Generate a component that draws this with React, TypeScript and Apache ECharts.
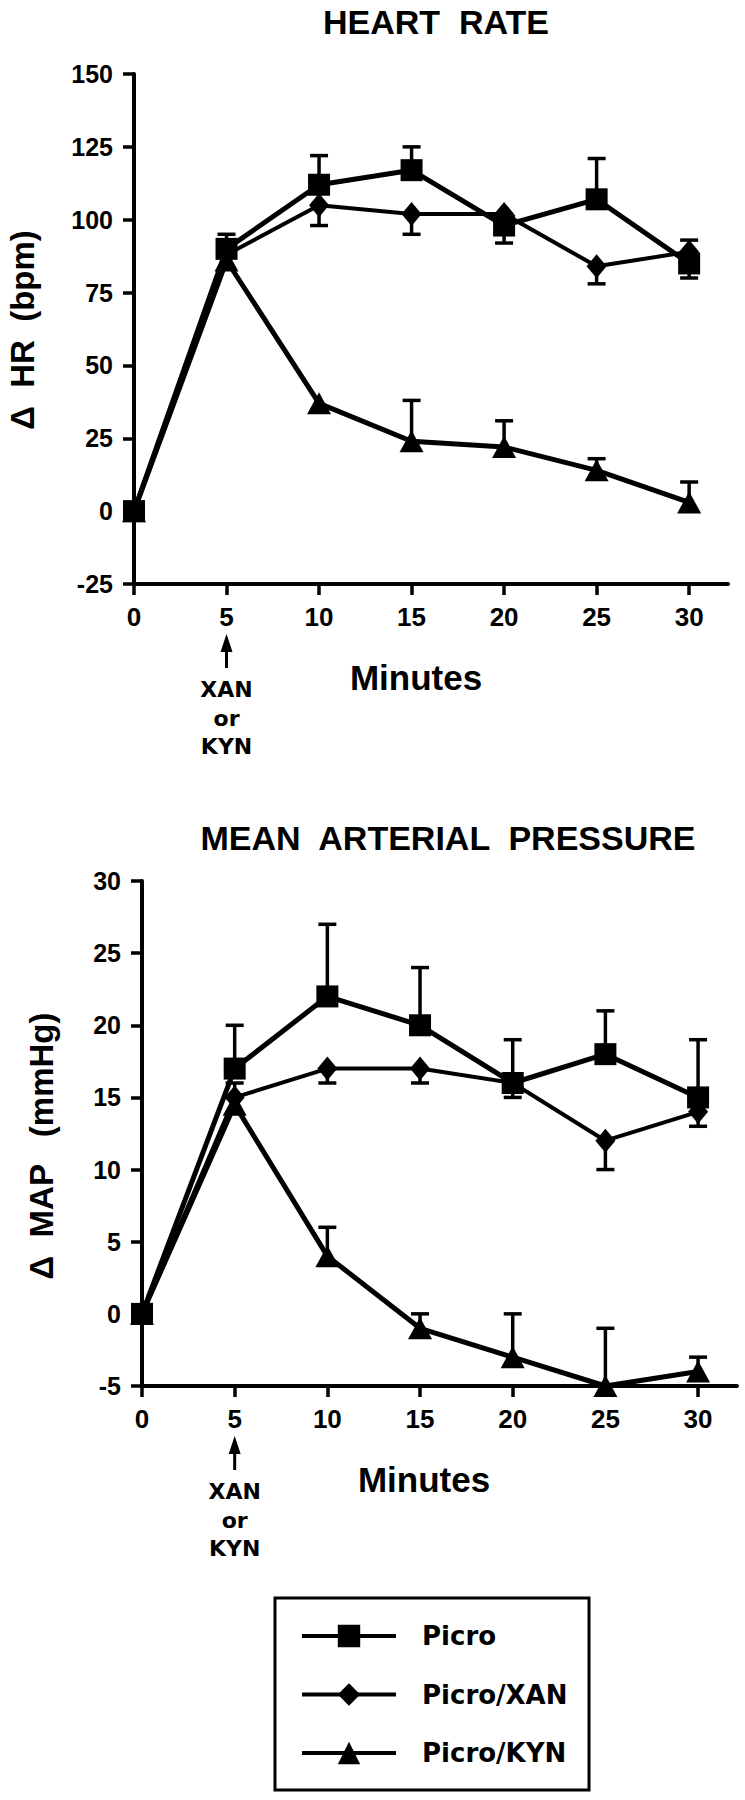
import React, { useEffect, useRef } from "react";
import * as echarts from "echarts";

// ---------- data ----------
const minutes = [0, 5, 10, 15, 20, 25, 30];
const xTicks = [0, 5, 10, 15, 20, 25, 30];
const seriesNames = ["Picro", "Picro/XAN", "Picro/KYN"];

// Heart rate (Δ bpm)
const hrPicro = [0, 90, 112, 117, 98, 107, 85];
const hrPicroErr = [null, 95, 122, 125, 92, 121, 80];
const hrXan = [0, 88, 105, 102, 102, 84, 89];
const hrXanErr = [null, null, 98, 95, null, 78, 93];
const hrKyn = [0, 86, 37, 24, 22, 14, 3];
const hrKynErr = [null, null, null, 38, 31, 18, 10];
const hrTicks = { min: -25, max: 150, interval: 25 };

// Mean arterial pressure (Δ mmHg)
const mapPicro = [0, 17, 22, 20, 16, 18, 15];
const mapPicroErr = [null, 20, 27, 24, 19, 21, 19];
const mapXan = [0, 15, 17, 17, 16, 12, 14];
const mapXanErr = [null, 16, 16, 16, 15, 10, 13];
const mapKyn = [0, 14.5, 4, -1, -3, -5, -4];
const mapKynErr = [null, null, 6, 0, 0, -1, -3];
const mapTicks = { min: -5, max: 30, interval: 5 };

const injectionMinute = 5;

// ---------- styles ----------
const SANS = "'Liberation Sans', Arial, Helvetica, sans-serif";
const WIDE = "'DejaVu Sans', 'Liberation Sans', sans-serif";
const BLACK = "#000";

const symbols: Record<string, any> = {
  Picro: { symbol: "rect", size: 22, width: 5 },
  "Picro/XAN": { symbol: "diamond", size: [20, 24], width: 4 },
  "Picro/KYN": { symbol: "triangle", size: [24, 22], width: 5 },
};

function lineSeries(name: string, values: number[], idx: number, z: number) {
  const s = symbols[name];
  return {
    type: "line",
    name,
    xAxisIndex: idx,
    yAxisIndex: idx,
    data: minutes.map((m, i) => [m, values[i]]),
    symbol: s.symbol,
    symbolSize: s.size,
    showAllSymbol: true,
    lineStyle: { color: BLACK, width: s.width },
    itemStyle: { color: BLACK },
    z,
    silent: true,
    clip: false,
  };
}

function errSeries(values: number[], ends: (number | null)[], idx: number) {
  const data: number[][] = [];
  minutes.forEach((m, i) => {
    if (ends[i] !== null && ends[i] !== undefined) data.push([m, values[i], ends[i] as number]);
  });
  return {
    type: "custom",
    xAxisIndex: idx,
    yAxisIndex: idx,
    data,
    z: 1,
    silent: true,
    clip: false,
    renderItem: (params: any, api: any) => {
      const x = api.value(0);
      const p1 = api.coord([x, api.value(1)]);
      const p2 = api.coord([x, api.value(2)]);
      const cap = 9;
      return {
        type: "group",
        children: [
          {
            type: "line",
            shape: { x1: p1[0], y1: p1[1], x2: p2[0], y2: p2[1] },
            style: { stroke: BLACK, lineWidth: 3.5 },
          },
          {
            type: "line",
            shape: { x1: p2[0] - cap, y1: p2[1], x2: p2[0] + cap, y2: p2[1] },
            style: { stroke: BLACK, lineWidth: 3.5 },
          },
        ],
      };
    },
  };
}

function xAxisCfg(idx: number) {
  return {
    type: "value",
    gridIndex: idx,
    min: 0,
    max: 32.1,
    axisLine: { show: true, onZero: false, lineStyle: { color: BLACK, width: 4 } },
    axisTick: {
      show: true,
      length: 11,
      customValues: xTicks,
      lineStyle: { color: BLACK, width: 3.5 },
    },
    axisLabel: {
      customValues: xTicks,
      margin: 20,
      color: BLACK,
      fontFamily: SANS,
      fontWeight: "bold",
      fontSize: 26,
    },
    splitLine: { show: false },
  };
}

function yAxisCfg(idx: number, t: { min: number; max: number; interval: number }) {
  return {
    type: "value",
    gridIndex: idx,
    min: t.min,
    max: t.max,
    interval: t.interval,
    axisLine: { show: true, onZero: false, lineStyle: { color: BLACK, width: 4 } },
    axisTick: { show: true, length: 11, lineStyle: { color: BLACK, width: 3.5 } },
    axisLabel: {
      margin: 21,
      color: BLACK,
      fontFamily: SANS,
      fontWeight: "bold",
      fontSize: 25,
    },
    splitLine: { show: false },
  };
}

function txt(text: string, x: number, y: number, size: number, family = SANS, rotation = 0) {
  return {
    type: "text",
    x,
    y,
    rotation,
    silent: true,
    style: {
      text,
      fill: BLACK,
      fontFamily: family,
      fontWeight: "bold",
      fontSize: size,
      align: "center",
      verticalAlign: "middle",
      textAlign: "center",
      textVerticalAlign: "middle",
    },
  };
}

function arrowAndNote(x: number, axisY: number) {
  return [
    {
      type: "polygon",
      silent: true,
      shape: {
        points: [
          [x, axisY + 50],
          [x - 6, axisY + 68],
          [x + 6, axisY + 68],
        ],
      },
      style: { fill: BLACK },
    },
    {
      type: "line",
      silent: true,
      shape: { x1: x, y1: axisY + 66, x2: x, y2: axisY + 84 },
      style: { stroke: BLACK, lineWidth: 3 },
    },
    txt("XAN", x, axisY + 105, 22, WIDE),
    txt("or", x, axisY + 134, 22, WIDE),
    txt("KYN", x, axisY + 162, 22, WIDE),
  ];
}

export default function App() {
  const ref = useRef<HTMLDivElement>(null);

  useEffect(() => {
    document.body.style.margin = "0";
    if (!ref.current) return;
    const chart = echarts.init(ref.current, undefined, { renderer: "svg" });

    const option: any = {
      animation: false,
      backgroundColor: "#fff",
      grid: [
        { left: 134, top: 74, width: 594, height: 510 },
        { left: 142, top: 881, width: 595, height: 505 },
      ],
      xAxis: [xAxisCfg(0), xAxisCfg(1)],
      yAxis: [yAxisCfg(0, hrTicks), yAxisCfg(1, mapTicks)],
      legend: {
        data: seriesNames,
        orient: "vertical",
        left: 295,
        top: 1618,
        itemWidth: 94,
        itemHeight: 28,
        itemGap: 32.5,
        selectedMode: false,
        lineStyle: { width: 4 },
        textStyle: {
          color: BLACK,
          fontFamily: WIDE,
          fontWeight: "bold",
          fontSize: 26,
          padding: [0, 0, 0, 21],
        },
      },
      series: [
        errSeries(hrKyn, hrKynErr, 0),
        errSeries(hrXan, hrXanErr, 0),
        errSeries(hrPicro, hrPicroErr, 0),
        lineSeries("Picro/KYN", hrKyn, 0, 2),
        lineSeries("Picro/XAN", hrXan, 0, 3),
        lineSeries("Picro", hrPicro, 0, 4),
        errSeries(mapKyn, mapKynErr, 1),
        errSeries(mapXan, mapXanErr, 1),
        errSeries(mapPicro, mapPicroErr, 1),
        lineSeries("Picro/KYN", mapKyn, 1, 2),
        lineSeries("Picro/XAN", mapXan, 1, 3),
        lineSeries("Picro", mapPicro, 1, 4),
      ],
    };
    chart.setOption(option);

    const hrArrowX = chart.convertToPixel({ xAxisIndex: 0 }, injectionMinute) as number;
    const mapArrowX = chart.convertToPixel({ xAxisIndex: 1 }, injectionMinute) as number;
    const hrAxisY = chart.convertToPixel({ yAxisIndex: 0 }, hrTicks.min) as number;
    const mapAxisY = chart.convertToPixel({ yAxisIndex: 1 }, mapTicks.min) as number;

    chart.setOption({
      graphic: [
        txt("HEART  RATE", 436, 22, 34),
        txt("MEAN  ARTERIAL  PRESSURE", 448, 838, 34),
        txt("\u0394  HR  (bpm)", 22, 330, 33, SANS, Math.PI / 2),
        txt("\u0394  MAP   (mmHg)", 41, 1146, 33, SANS, Math.PI / 2),
        txt("Minutes", 416, hrAxisY + 93, 35),
        txt("Minutes", 424, mapAxisY + 93, 35),
        ...arrowAndNote(hrArrowX, hrAxisY),
        ...arrowAndNote(mapArrowX, mapAxisY),
        {
          type: "rect",
          silent: true,
          shape: { x: 275, y: 1598, width: 314, height: 192 },
          style: { fill: "none", stroke: BLACK, lineWidth: 3 },
        },
      ],
    });

    return () => chart.dispose();
  }, []);

  return <div ref={ref} style={{ width: 745, height: 1800 }} />;
}
